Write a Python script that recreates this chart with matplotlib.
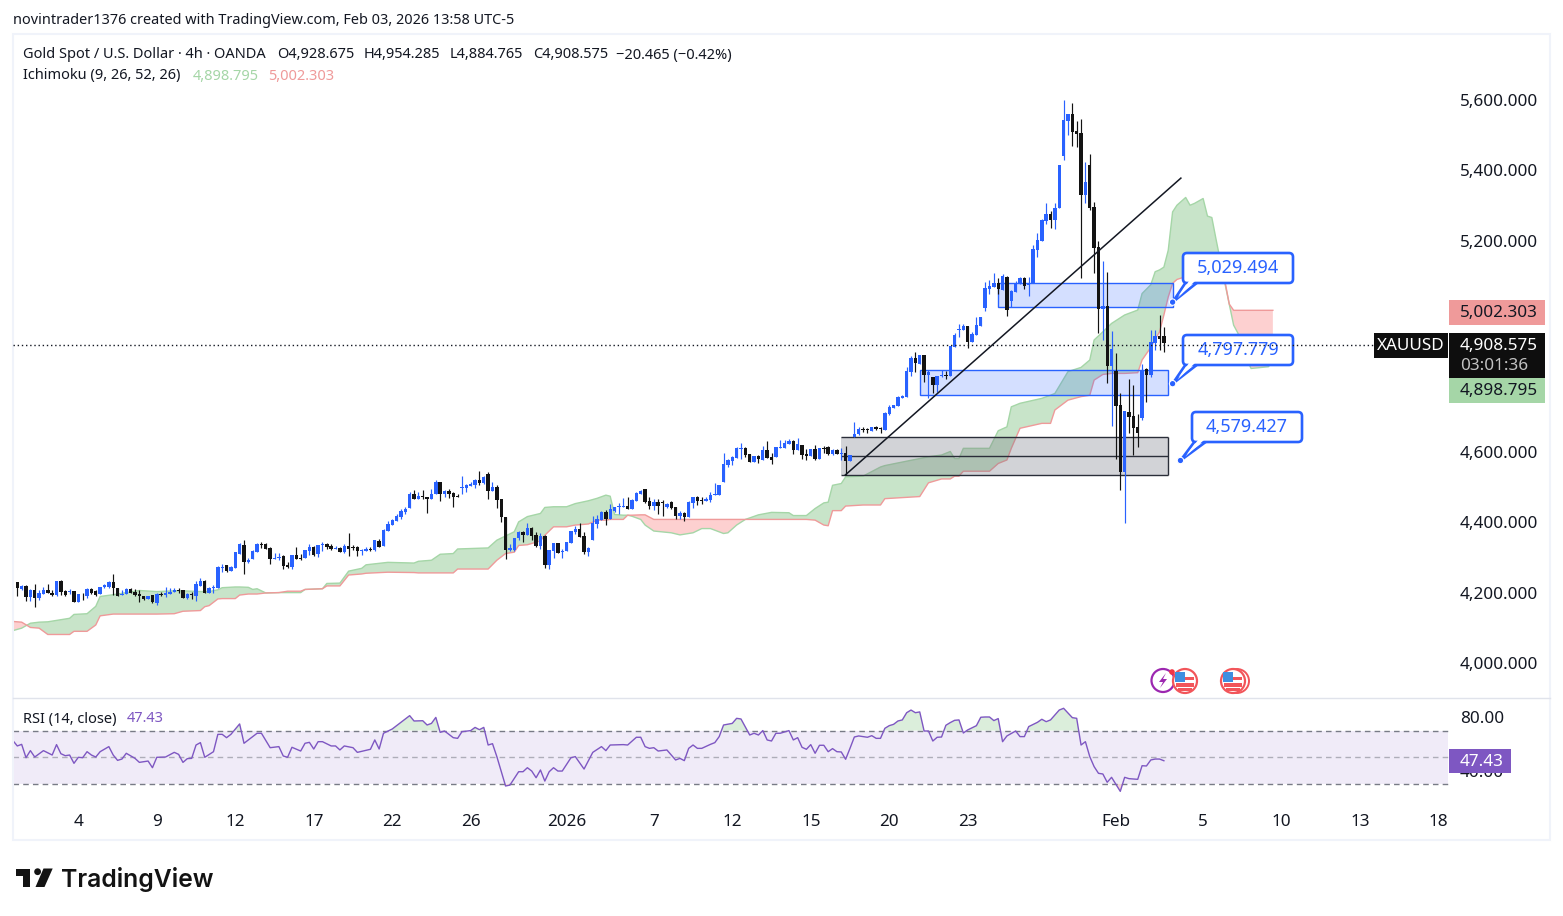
import matplotlib
matplotlib.use("Agg")
import matplotlib.pyplot as plt
from matplotlib.patches import Rectangle, FancyBboxPatch, Circle, Polygon

plt.rcParams['font.family'] = ['Noto Sans', 'DejaVu Sans']

W, H = 1563, 916

opens = [4229,4210,4220,4187,4208,4186,4195,4208,4200,4193,
 4233,4205,4202,4205,4174,4194,4189,4211,4205,4196,
 4216,4215,4230,4213,4194,4195,4211,4203,4196,4189,
 4183,4192,4171,4197,4194,4197,4202,4208,4206,4184,
 4195,4191,4220,4234,4200,4213,4213,4270,4278,4262,
 4270,4310,4336,4288,4295,4316,4338,4338,4328,4296,
 4297,4304,4279,4272,4307,4299,4297,4319,4330,4310,
 4336,4339,4333,4325,4328,4314,4333,4329,4330,4318,
 4319,4325,4320,4347,4333,4375,4392,4404,4414,4428,
 4441,4481,4465,4473,4473,4466,4480,4514,4480,4488,
 4483,4474,4497,4497,4503,4505,4520,4511,4537,4489,
 4500,4466,4416,4321,4321,4354,4372,4363,4383,4363,
 4332,4361,4278,4318,4341,4315,4318,4341,4372,4380,
 4361,4315,4349,4395,4406,4429,4409,4431,4444,4443,
 4446,4438,4460,4480,4494,4460,4446,4457,4457,4443,
 4457,4443,4417,4426,4415,4454,4471,4463,4460,4463,
 4477,4477,4514,4562,4574,4582,4608,4611,4594,4571,
 4588,4577,4605,4585,4585,4610,4610,4622,4630,4605,
 4619,4594,4588,4608,4579,4611,4613,4594,4605,4594,
 4597,4574,4641,4650,4665,4665,4658,4670,4666,4661,
 4707,4725,4730,4754,4755,4827,4867,4849,4875,4818,
 4813,4790,4815,4819,4815,4898,4946,4946,4957,4912,
 4932,4958,5009,5063,5068,5080,5060,5098,5029,5054,
 5077,5094,5073,5079,5173,5200,5257,5276,5259,5294,
 5440,5540,5560,5511,5506,5330,5415,5296,5182,5006,
 5014,4844,4830,4733,4544,4712,4702,4670,4696,4835,
 4818,4908,4928,4928.675]
highs = [4230,4222,4221,4210,4224,4208,4216,4225,4206,4234,
 4236,4208,4211,4205,4196,4200,4213,4213,4206,4217,
 4225,4234,4253,4213,4208,4213,4213,4211,4208,4191,
 4190,4194,4198,4202,4216,4213,4213,4213,4208,4200,
 4202,4233,4242,4236,4216,4222,4276,4282,4279,4276,
 4316,4340,4350,4298,4321,4340,4344,4340,4331,4312,
 4312,4306,4287,4307,4330,4310,4321,4338,4333,4336,
 4344,4342,4338,4333,4331,4338,4369,4336,4333,4325,
 4329,4331,4349,4353,4380,4404,4410,4424,4437,4443,
 4487,4492,4487,4491,4473,4494,4520,4514,4491,4494,
 4486,4479,4532,4510,4514,4523,4545,4532,4542,4514,
 4506,4467,4416,4337,4355,4375,4375,4397,4386,4372,
 4368,4365,4321,4341,4342,4325,4345,4375,4389,4398,
 4372,4329,4417,4420,4432,4434,4452,4443,4454,4468,
 4471,4465,4485,4491,4494,4473,4467,4466,4463,4454,
 4460,4443,4432,4429,4460,4473,4474,4471,4471,4486,
 4511,4505,4596,4579,4589,4613,4625,4613,4594,4588,
 4591,4616,4630,4596,4613,4633,4633,4636,4633,4639,
 4619,4608,4608,4619,4611,4616,4616,4608,4608,4610,
 4617,4591,4684,4670,4670,4668,4672,4674,4670,4712,
 4733,4733,4758,4762,4841,4872,4884,4875,4875,4832,
 4813,4815,4834,4831,4901,4937,4963,4963,4957,4940,
 4983,4983,5082,5088,5107,5094,5105,5100,5060,5086,
 5096,5096,5098,5188,5221,5263,5306,5285,5308,5415,
 5600,5560,5591,5540,5546,5423,5446,5310,5200,5142,
 5111,4943,4880,4766,4716,4806,4790,4708,4851,4839,
 4946,4946,4989,4954.285]
lows = [4189,4208,4177,4177,4160,4178,4195,4200,4191,4189,
 4192,4191,4196,4172,4174,4179,4186,4196,4191,4195,
 4212,4213,4194,4189,4194,4195,4198,4191,4172,4179,
 4183,4170,4165,4191,4187,4197,4202,4198,4186,4183,
 4182,4177,4220,4200,4200,4200,4213,4259,4259,4262,
 4270,4310,4253,4284,4295,4316,4328,4324,4282,4296,
 4293,4267,4269,4268,4295,4294,4297,4307,4304,4302,
 4317,4324,4320,4325,4316,4312,4304,4320,4304,4307,
 4317,4317,4317,4331,4333,4375,4392,4404,4408,4424,
 4441,4466,4465,4467,4427,4466,4480,4460,4471,4470,
 4443,4471,4480,4486,4503,4497,4505,4508,4467,4489,
 4441,4401,4296,4319,4319,4349,4344,4363,4349,4329,
 4324,4271,4268,4298,4312,4299,4318,4341,4366,4358,
 4309,4304,4349,4385,4406,4392,4409,4428,4423,4443,
 4437,4438,4460,4480,4456,4437,4434,4423,4417,4440,
 4437,4409,4409,4404,4415,4440,4449,4451,4460,4457,
 4477,4477,4514,4558,4562,4582,4579,4585,4571,4571,
 4568,4577,4582,4565,4585,4610,4610,4622,4594,4605,
 4579,4577,4588,4577,4579,4596,4591,4591,4594,4577,
 4534,4574,4641,4647,4657,4654,4658,4661,4654,4661,
 4705,4725,4730,4754,4755,4815,4827,4849,4798,4752,
 4768,4770,4812,4808,4815,4898,4926,4946,4895,4912,
 4932,4958,5000,5048,5068,5048,5060,4986,5011,5054,
 5077,5063,5043,5079,5154,5200,5249,5235,5233,5294,
 5429,5500,5469,5467,5095,5306,5287,5108,4939,4918,
 4796,4674,4580,4492,4399,4653,4591,4615,4690,4743,
 4812,4889,4889,4884.765]
closes = [4212,4220,4187,4208,4186,4198,4208,4200,4194,4233,
 4203,4194,4205,4174,4195,4192,4211,4200,4193,4216,
 4221,4230,4212,4191,4196,4211,4200,4194,4189,4182,
 4190,4172,4195,4194,4198,4202,4208,4205,4186,4197,
 4193,4225,4234,4200,4214,4216,4274,4274,4262,4274,
 4314,4337,4288,4293,4319,4338,4335,4324,4296,4298,
 4300,4276,4272,4307,4296,4296,4321,4330,4307,4336,
 4339,4329,4323,4328,4316,4333,4324,4326,4317,4321,
 4325,4322,4349,4331,4378,4395,4407,4419,4433,4438,
 4481,4466,4475,4471,4466,4480,4514,4480,4488,4480,
 4471,4472,4500,4506,4508,4520,4511,4528,4489,4500,
 4464,4416,4322,4327,4355,4372,4364,4383,4361,4332,
 4361,4278,4321,4341,4312,4318,4344,4375,4380,4358,
 4315,4326,4398,4408,4429,4409,4437,4443,4447,4446,
 4438,4463,4483,4488,4457,4446,4457,4446,4455,4452,
 4440,4417,4426,4415,4457,4471,4460,4460,4466,4477,
 4480,4505,4565,4577,4585,4611,4611,4591,4571,4588,
 4579,4605,4582,4577,4613,4613,4625,4630,4605,4622,
 4591,4588,4608,4579,4611,4608,4594,4605,4594,4597,
 4574,4591,4652,4665,4663,4662,4670,4664,4664,4710,
 4727,4733,4756,4759,4830,4867,4852,4875,4818,4827,
 4790,4815,4819,4817,4901,4932,4949,4957,4912,4935,
 4960,4983,5065,5071,5079,5063,5100,5003,5057,5081,
 5094,5071,5077,5176,5202,5259,5276,5259,5293,5415,
 5543,5560,5509,5503,5330,5367,5293,5179,5006,5014,
 4844,4892,4731,4544,4716,4700,4669,4654,4834,4818,
 4913,4929,4922,4908.575]

cloud_bars = [-1,1,3,5,7,12,13,16,18,19,22,28,32,36,38,42,43,44,46,47,50,51,53,54,55,57,60,62,65,66,70,71,74,76,79,80,85,91,
 92,95,97,100,101,108,110,112,114,115,117,120,121,123,126,128,131,133,135,136,137,139,140,141,143,144,146,150,152,155,157,159,162,163,165,167,170,173,177,178,181,183,185,186,187,189,
 190,194,198,199,207,209,212,214,215,216,217,223,225,227,228,230,235,237,238,241,244,246,247,249,251,254,257,258,260,261,262,263,
 264,265,266,268,269,270,272,273,274,275,277,278,279,280,281,283,287,288]
span_a = [4092,4099,4113,4116,4117,4127,4138,4140,4161,4189,4194,4206,4203,4205,4205,4203,4203,4203,4208,4214,4216,4216,4215,4209,4211,4199,4200,4200,4200,4209,4211,4226,4227,4261,4269,4279,4286,4284,
 4289,4292,4309,4311,4324,4327,4349,4361,4373,4401,4416,4425,4442,4444,4444,4453,4461,4468,4477,4474,4422,4420,4420,4417,4408,4392,4375,4370,4364,4370,4382,4382,4368,4370,4392,4408,4421,4428,4427,4419,4419,4439,4455,4457,4505,4510,
 4529,4531,4557,4561,4581,4586,4591,4601,4581,4581,4610,4610,4660,4671,4728,4738,4752,4761,4766,4828,4840,4861,4918,4941,4965,4989,5003,5050,5075,5112,5117,5125,
 5173,5282,5301,5323,5301,5306,5320,5270,5266,5202,5079,5020,4960,4937,4890,4837,4842,4861]
span_b = [4118,4116,4101,4099,4081,4081,4090,4090,4108,4134,4139,4139,4139,4140,4147,4149,4160,4163,4182,4183,4183,4193,4196,4196,4196,4199,4200,4204,4204,4209,4211,4219,4219,4250,4253,4255,4258,4257,
 4256,4256,4256,4256,4267,4267,4292,4311,4315,4334,4336,4347,4363,4387,4387,4392,4395,4406,4406,4408,4408,4408,4420,4420,4421,4421,4408,4408,4408,4408,4408,4408,4408,4408,4408,4408,4408,4408,4408,4408,4408,4406,4392,4390,4433,4433,
 4446,4449,4449,4467,4473,4512,4523,4523,4531,4531,4545,4545,4567,4577,4610,4667,4681,4681,4719,4747,4757,4761,4804,4820,4823,4823,4825,4861,4897,4920,4941,4989,
 5040,5079,5090,5098,5098,5098,5098,5098,5098,5098,5085,5020,5002.303,5002.303,5002.303,5002.303,5002.303,5002.303]

rsi_bars = [-1,0,1,2,3,4,6,8,9,10,11,12,13,14,15,16,17,18,19,21,22,23,24,25,27,28,30,31,32,34,36,37,38,39,40,41,42,43,45,46,47,48,49,51,52,55,56,58,60,61,62,63,65,66,67,68,69,70,72,73,74,75,77,78,81,82,83,84,86,88,90,91,93,94,95,96,97,98,100,101,102,104,105,106,107,108,109,110,112,113,115,116,117,118,119,120,121,122,123,124,125,127,128,130,132,134,135,136,139,140,142,143,144,145,146,147,149,151,152,153,154,155,156,157,159,160,161,162,164,165,166,168,169,170,171,172,173,174,175,177,178,179,
 180,181,182,183,184,185,186,187,188,189,190,191,192,193,195,196,197,198,199,200,201,202,203,204,205,206,207,208,209,210,211,212,213,214,215,216,217,218,220,221,222,223,224,225,226,227,229,230,231,232,234,235,236,237,239,240,242,243,244,245,246,247,248,249,250,251,253,254,255,257,258,259,260,261,262,263]
rsi_vals = [62.5,58.5,59.7,49.7,55.0,50.2,55.0,51.7,59.5,52.7,51.2,51.7,45.5,50.0,49.7,54.2,51.7,50.2,54.2,58.0,51.7,47.7,48.7,53.0,49.2,46.2,47.2,42.2,50.0,50.2,53.7,52.2,46.2,49.0,49.2,59.2,61.0,50.0,54.2,67.2,67.2,64.7,67.2,75.0,60.5,68.0,68.0,57.2,58.0,51.0,50.0,57.5,54.7,60.5,61.2,56.2,61.7,61.7,58.5,58.5,55.5,58.5,57.2,53.7,56.0,63.0,56.2,68.0,71.2,76.2,81.2,77.2,77.4,74.2,75.4,79.9,68.7,69.7,64.7,64.2,69.2,70.0,72.4,70.7,72.4,59.2,60.2,50.5,28.5,29.2,39.2,39.2,42.2,39.7,34.7,40.5,32.2,39.2,42.2,39.7,39.7,49.7,50.5,41.2,53.7,58.0,55.0,59.2,59.5,59.2,65.0,65.0,58.0,56.7,57.2,54.7,55.5,48.0,49.2,47.5,56.7,59.2,56.7,56.7,59.7,61.0,65.5,74.2,75.4,79.2,78.7,66.7,68.0,66.7,70.0,63.0,62.2,68.0,68.0,70.0,63.0,64.7,
 57.5,56.0,59.5,53.0,59.0,59.0,54.2,56.5,54.2,54.0,48.5,56.7,65.2,66.0,65.0,66.2,64.2,64.2,71.7,73.7,74.7,77.2,78.0,83.4,85.4,83.4,84.0,69.7,69.7,62.2,65.0,65.2,74.0,76.0,77.7,78.0,68.2,70.5,73.7,80.0,80.2,80.2,77.5,79.0,61.7,66.0,69.7,65.5,65.5,73.0,76.2,78.5,76.7,78.0,85.4,86.7,79.7,79.2,59.2,61.7,50.5,43.0,38.0,37.5,31.3,35.0,24.5,35.0,34.0,33.5,43.7,43.5,48.0,48.7,48.7,47.43]

price_ticks = [4000,4200,4400,4600,5200,5400,5600]
time_tick_bars = [14,32,50,68,86,104,126,146,164,182,200,218,252,272,290,308,326]
time_tick_labels = ['4','9','12','17','22','26','2026','7','12','15','20','23','Feb','5','10','13','18']
bold_labels = ['2026','Feb']

trend_bars = [189.9,266.9]
trend_prices = [4534,5378]
zone_hi_bars = [225,265]; zone_hi = [5011,5079]
zone_mid_bars = [207,264]; zone_mid = [4761,4832]
zone_lo_bars = [189,264]; zone_lo = [4534,4587,4641]
callout_bars = [265,265,266.8]
callout_prices = [5029.494,4797.779,4579.427]
last_price = 4908.575

BLUE = '#2962ff'; BLACK = '#131313'; INK = '#131722'
GREEN = '#a5d6a7'; RED = '#ef9a9a'; PURPLE = '#7e57c2'
SCALE_NUDGE = 1.4
LABEL = 12.3
HEAD = 10.5

fig = plt.figure(figsize=(W/100, H/100), dpi=100, facecolor='white')

def rect(l, t, r, b):
    return [l/W, 1-b/H, (r-l)/W, (b-t)/H]

ax = fig.add_axes(rect(13, 35, 1449, 697))
rx = fig.add_axes(rect(13, 698, 1449, 803), sharex=ax)
ax.set_xlim(-0.986, 328.4)
ax.set_ylim(5600-(697-100)*2.842, 5600+(100-35)*2.842)
rx.set_ylim(50-(803-757.3)/1.335, 50+(757.3-698)/1.335)

# Cloud
ax.fill_between(cloud_bars, span_a, span_b, where=[a >= b for a, b in zip(span_a, span_b)],
                interpolate=True, color='#c8e4c9', lw=0, zorder=1)
ax.fill_between(cloud_bars, span_a, span_b, where=[a < b for a, b in zip(span_a, span_b)],
                interpolate=True, color='#fdd0d0', lw=0, zorder=1)
ax.plot(cloud_bars, span_a, color=GREEN, lw=1.0, zorder=1.5)
ax.plot(cloud_bars, span_b, color=RED, lw=1.0, zorder=1.5)

# Zones
def zone(xs, lo, hi, fc, alpha, ec=None):
    ax.add_patch(Rectangle((xs[0], lo), xs[1]-xs[0], hi-lo, fc=fc, alpha=alpha, lw=0, zorder=2))
    if ec:
        ax.add_patch(Rectangle((xs[0], lo), xs[1]-xs[0], hi-lo, fc='none', ec=ec, lw=1.0, zorder=2.2))

zone(zone_hi_bars, zone_hi[0], zone_hi[1], BLUE, 0.2, BLUE)
zone(zone_mid_bars, zone_mid[0], zone_mid[1], BLUE, 0.2, BLUE)
zone(zone_lo_bars, zone_lo[0], zone_lo[2], '#787b86', 0.33)
ax.hlines(zone_lo, zone_lo_bars[0], zone_lo_bars[1], color='#2a2e39', lw=1.0, zorder=2.2)
ax.vlines(zone_lo_bars[1], zone_lo[0], zone_lo[2], color='#2a2e39', lw=1.0, zorder=2.2)

# Candles
for i, (o, h, l, c) in enumerate(zip(opens, highs, lows, closes)):
    col = BLUE if c >= o else BLACK
    ax.vlines(i, l, h, color=col, lw=0.85, zorder=3)
    ax.bar(i, max(abs(c-o), 2.5), bottom=min(o, c), width=0.78, color=col, lw=0, zorder=3.1)

ax.plot(trend_bars, trend_prices, color=INK, lw=1.1, zorder=4)

ax.set_yticks(price_ticks)
ax.set_yticklabels([f'{p:,.3f}' for p in price_ticks])
ax.yaxis.tick_right()
ax.tick_params(axis='y', length=0, pad=7.9, labelsize=LABEL, labelcolor=INK)
ax.tick_params(axis='x', length=0, labelbottom=False)
for s in ax.spines.values():
    s.set_visible(False)

# RSI
rx.axhspan(30, 70, xmax=(1448-13)/(1449-13), color=PURPLE, alpha=0.115, lw=0, zorder=1)
rx.hlines([70, 30], -0.986, 328.1, color='#787b86', lw=1.0, linestyles=(0, (4, 3)), zorder=2)
rx.hlines([50], -0.986, 328.1, color='#787b86', alpha=0.55, lw=1.0, linestyles=(0, (4, 3)), zorder=2)
rx.fill_between(rsi_bars, rsi_vals, 70, where=[v >= 70 for v in rsi_vals], interpolate=True,
                color=GREEN, alpha=0.4, lw=0, zorder=1.5)
rx.fill_between(rsi_bars, rsi_vals, 30, where=[v <= 30 for v in rsi_vals], interpolate=True,
                color=RED, alpha=0.4, lw=0, zorder=1.5)
rx.plot(rsi_bars, rsi_vals, color=PURPLE, lw=1.0, zorder=3)
rx.set_yticks([40, 80])
rx.set_yticklabels(['40.00', '80.00'])
rx.yaxis.tick_right()
rx.tick_params(axis='y', length=0, pad=7.9, labelsize=LABEL, labelcolor=INK)
rx.set_xticks(time_tick_bars)
rx.set_xticklabels(time_tick_labels)
rx.tick_params(axis='x', length=0, pad=8, labelsize=LABEL, labelcolor=INK)
for t, lab in zip(rx.get_xticklabels(), time_tick_labels):
    if lab in bold_labels:
        t.set_fontweight('bold')
for s in rx.spines.values():
    s.set_visible(False)

# Overlay in pixel space for chrome
ov = fig.add_axes([0, 0, 1, 1], zorder=10)
ov.set_xlim(0, W); ov.set_ylim(H, 0); ov.axis('off'); ov.patch.set_alpha(0)

fig.canvas.draw()
def to_px(b, p):
    x, y = ax.transData.transform((b, p))
    return x, H - y + SCALE_NUDGE

def txt(x, y, s, color=INK, size=10, ha='left', va='center', **kw):
    return ov.text(x, y, s, color=color, fontsize=size, ha=ha, va=va, **kw)

ov.add_patch(Rectangle((13, 34), 1537, 806, fc='none', ec='#f0f3fa', lw=1.5))
ov.plot([13, 1550], [697.5, 697.5], color='#e0e3eb', lw=1.0)

txt(13, 21, 'novintrader1376 created with TradingView.com, Feb 03, 2026 13:58 UTC-5', size=10.4)
txt(23, 55, 'Gold Spot / U.S. Dollar · 4h · OANDA', size=HEAD)
for x, s in [(277, 'O4,928.675'), (364, 'H4,954.285'), (450, 'L4,884.765'), (533, 'C4,908.575'), (616, '−20.465 (−0.42%)')]:
    txt(x, 55, s, size=HEAD)
txt(23, 76, 'Ichimoku (9, 26, 52, 26)', size=HEAD)
txt(193, 76, '4,898.795', color=GREEN, size=HEAD)
txt(268, 76, '5,002.303', color=RED, size=HEAD)
txt(23, 719, 'RSI (14, close)', size=HEAD)
txt(127, 719, '47.43', color=PURPLE, size=HEAD)

# Last-price line and scale boxes
_, ly = to_px(0, last_price)
ov.plot([13, 1374], [ly, ly], color=INK, lw=1.0, linestyle=(0, (1, 2)), zorder=8)

def label_box(l, t, r, b, fc):
    ov.add_patch(Rectangle((l, t), r-l, b-t, fc=fc, lw=0, zorder=5))

label_box(1449, 300, 1545, 325, RED)
txt(1460, 313, '5,002.303', size=LABEL, zorder=6)
label_box(1449, 333, 1545, 378, '#0e0e0e')
txt(1460, 346.5, '4,908.575', color='white', size=LABEL, zorder=6)
txt(1460, 366, '03:01:36', color='#c2c2c2', size=LABEL, zorder=6)
label_box(1449, 378, 1545, 403, GREEN)
txt(1460, 391, '4,898.795', size=LABEL, zorder=6)
label_box(1374, 333, 1448, 358, '#0e0e0e')
txt(1411, 346.5, 'XAUUSD', color='white', size=LABEL, ha='center', zorder=6)
label_box(1449, 749, 1511, 773, PURPLE)
txt(1460, 762, '47.43', color='white', size=LABEL, zorder=6)

# Callouts
boxes = [(1183, 253, 1293, 283), (1183, 335, 1293, 365), (1192, 412, 1302, 442)]
for (l, t, r, b), bar, price in zip(boxes, callout_bars, callout_prices):
    ax_, ay_ = to_px(bar, price)
    ov.add_patch(Polygon([(ax_, ay_), (l+3, b-1), (l+15, b-1)], closed=True, fc='white', ec=BLUE, lw=1.9, zorder=6, joinstyle='round'))
    ov.add_patch(FancyBboxPatch((l+3, t+3), r-l-6, b-t-6, boxstyle='round,pad=3,rounding_size=4',
                                fc='white', ec=BLUE, lw=1.9, zorder=6.1))
    ov.add_patch(Polygon([(ax_+5, ay_-4), (l+6, b-2), (l+12, b-2)], closed=True, fc='white', ec='none', zorder=6.2))
    ov.add_patch(Circle((ax_, ay_), 3.2, fc=BLUE, ec='white', lw=0.8, zorder=6.3))
    txt((l+r)/2, (t+b)/2, f'{price:,.3f}', color=BLUE, size=13, ha='center', fontweight='medium', zorder=7)

# Economic event icons
def flag(cx, cy, z=3):
    ov.add_patch(Circle((cx, cy), 12, fc='white', ec='#f2555a', lw=1.6, zorder=z))
    ov.add_patch(Rectangle((cx-9, cy+2), 18, 3.5, fc='#f2555a', lw=0, zorder=z+.1))
    ov.add_patch(Rectangle((cx-7, cy+7), 14, 2.5, fc='#f2555a', lw=0, zorder=z+.1))
    ov.add_patch(Rectangle((cx-1, cy-4), 10, 3, fc='#f2555a', lw=0, zorder=z+.1))
    ov.add_patch(Rectangle((cx-10, cy-9), 10, 10, fc='#3f8fe0', lw=0, zorder=z+.2))

ov.add_patch(Circle((1163, 680.5), 11.5, fc='white', ec='#9c27b0', lw=1.6, zorder=3))
ov.add_patch(Polygon([(1166, 673), (1159, 682), (1163, 682), (1160, 688), (1167, 679), (1163, 679)],
                     closed=True, fc='#9c27b0', lw=0, zorder=3.1))
flag(1185, 681, z=3.3)
ov.add_patch(Circle((1172, 672), 2.8, fc='#f23645', lw=0, zorder=3.9))
ov.add_patch(Circle((1237, 681), 12, fc='white', ec='#f2555a', lw=1.4, zorder=3))
flag(1233, 681, z=3.3)

# Logo
ov.add_patch(Polygon([(15.5, 868.5), (30, 868.5), (30, 887), (22.5, 887), (22.5, 875.5), (15.5, 875.5)], closed=True, fc=BLACK, lw=0))
ov.add_patch(Circle((37.6, 871.7), 3.4, fc=BLACK, lw=0))
ov.add_patch(Polygon([(43.5, 868.5), (52.7, 868.5), (44.5, 887), (35.5, 887)], closed=True, fc=BLACK, lw=0))
ov.text(61.5, 887, 'TradingView', family='Inter', fontweight='semibold', fontsize=17.8, color=BLACK, va='baseline')

fig.savefig('out.png', dpi=100)
